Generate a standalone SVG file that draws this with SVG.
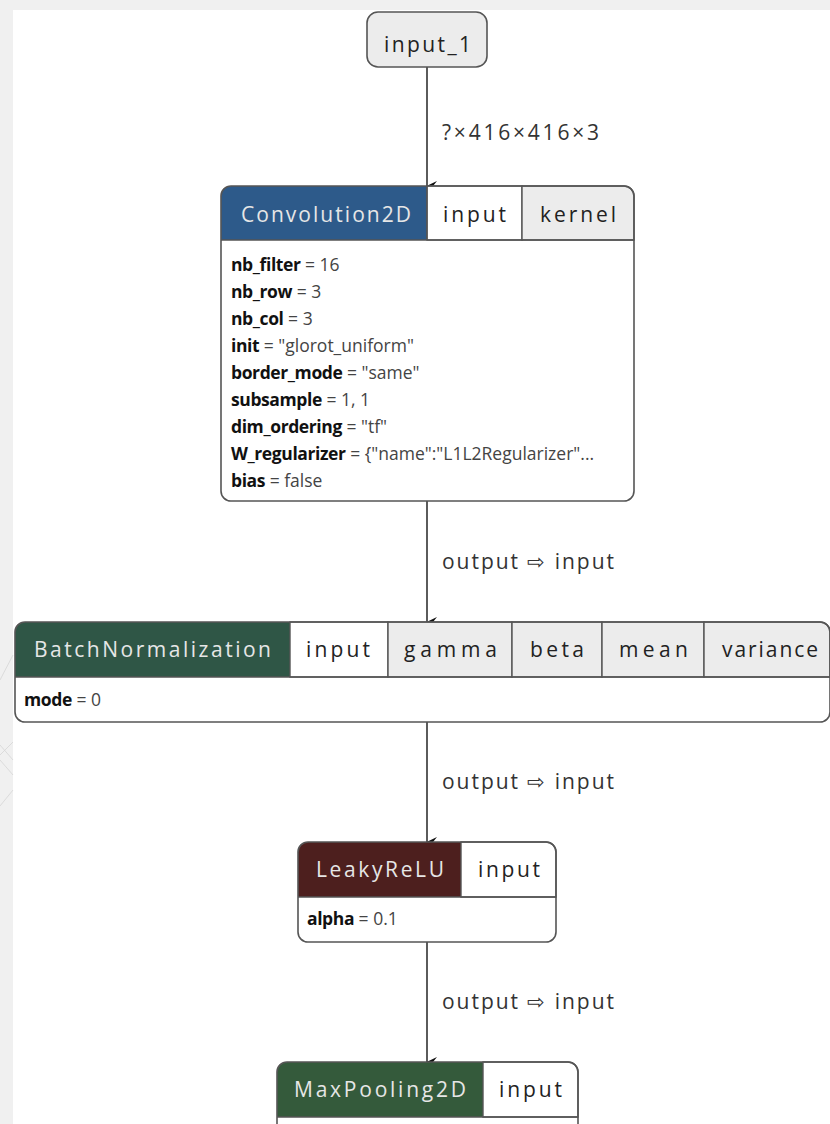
<svg xmlns="http://www.w3.org/2000/svg" width="830" height="1124" viewBox="0 0 830 1124">
  <style>
    .frame { fill: none; stroke: #555; stroke-width: 1.6; }
    .cell { stroke: #555; stroke-width: 1.4; }
    .port { fill: #ffffff; }
    .param { fill: #ececec; }
    .hdr { font-family: "Open Sans", "Noto Sans", sans-serif; font-size: 21px; fill: #e6e6e6; }
    .lbl { font-family: "Open Sans", "Noto Sans", sans-serif; font-size: 21px; fill: #222; }
    .attr { font-family: "Open Sans", "Noto Sans", sans-serif; font-size: 17.5px; fill: #444; }
    .attr .k { font-weight: bold; fill: #111; letter-spacing: -0.4px; }
    .edge { stroke: #333; stroke-width: 1.6; fill: none; marker-end: url(#arrow); }
    .elbl { font-family: "Open Sans", "Noto Sans", sans-serif; font-size: 21px; fill: #333; }
  </style>
  <defs>
    <marker id="arrow" markerWidth="12" markerHeight="14" refX="6" refY="12" orient="auto" markerUnits="userSpaceOnUse" viewBox="0 0 12 14">
      <path d="M1,2 L6,12.5 L11,2 L6,6 Z" fill="#111"/>
    </marker>
  </defs>

  <!-- canvas -->
  <rect x="0" y="0" width="830" height="1124" fill="#f0f0f0"/>
  <rect x="13" y="10" width="817" height="1114" fill="#ffffff"/>
  <g stroke="#d6d6d6" stroke-width="0.8" fill="none">
    <path d="M0,680 L13,655"/>
    <path d="M0,806 L13,790"/>
    <path d="M0,745 L13,760"/>
    <path d="M0,755 L13,742"/>
    <path d="M0,760 L13,775"/>
  </g>

  <!-- connectors -->
  <g id="connectors">
    <line class="edge" x1="427" y1="67" x2="427" y2="186"/>
    <text class="elbl" x="442" y="140" textLength="157">?×416×416×3</text>
    <line class="edge" x1="427" y1="501" x2="427" y2="622"/>
    <text class="elbl" x="442" y="569" textLength="172">output ⇨ input</text>
    <line class="edge" x1="427" y1="722" x2="427" y2="842"/>
    <text class="elbl" x="442" y="789" textLength="172">output ⇨ input</text>
    <line class="edge" x1="427" y1="942" x2="427" y2="1062"/>
    <text class="elbl" x="442" y="1009" textLength="172">output ⇨ input</text>
  </g>

  <!-- input_1 -->
  <g id="node-input_1">
    <rect x="367" y="12" width="120" height="55" rx="11" fill="#ececec" stroke="#555" stroke-width="1.6"/>
    <text class="lbl" x="384" y="52" textLength="87">input_1</text>
  </g>

  <!-- Convolution2D -->
  <g id="node-conv2d">
    <path d="M221,240 V196 A10,10 0 0 1 231,186 H427 V240 Z" fill="#2d5a8a"/>
    <rect class="cell port" x="427" y="186" width="95" height="54"/>
    <path class="cell param" d="M522,186 H624 A10,10 0 0 1 634,196 V240 H522 Z"/>
    <line class="cell" x1="427" y1="186" x2="427" y2="240"/>
    <line class="cell" x1="221" y1="240" x2="634" y2="240"/>
    <rect class="frame" x="221" y="186" width="413" height="315" rx="10"/>
    <text class="hdr" x="241" y="222" textLength="170">Convolution2D</text>
    <text class="lbl" x="443" y="222" textLength="63">input</text>
    <text class="lbl" x="540" y="222" textLength="76">kernel</text>
    <text class="attr" x="231" y="271"><tspan class="k">nb_filter</tspan> = 16</text>
    <text class="attr" x="231" y="298"><tspan class="k">nb_row</tspan> = 3</text>
    <text class="attr" x="231" y="325"><tspan class="k">nb_col</tspan> = 3</text>
    <text class="attr" x="231" y="352"><tspan class="k">init</tspan> = "glorot_uniform"</text>
    <text class="attr" x="231" y="379"><tspan class="k">border_mode</tspan> = "same"</text>
    <text class="attr" x="231" y="406"><tspan class="k">subsample</tspan> = 1, 1</text>
    <text class="attr" x="231" y="433"><tspan class="k">dim_ordering</tspan> = "tf"</text>
    <text class="attr" x="231" y="460"><tspan class="k">W_regularizer</tspan> = {"name":"L1L2Regularizer"...</text>
    <text class="attr" x="231" y="487"><tspan class="k">bias</tspan> = false</text>
  </g>

  <!-- BatchNormalization -->
  <g id="node-batchnorm">
    <path d="M15,677 V632 A10,10 0 0 1 25,622 H290 V677 Z" fill="#2f5646"/>
    <rect class="cell port" x="290" y="622" width="98" height="55"/>
    <rect class="cell param" x="388" y="622" width="124" height="55"/>
    <rect class="cell param" x="512" y="622" width="90" height="55"/>
    <rect class="cell param" x="602" y="622" width="102" height="55"/>
    <path class="cell param" d="M704,622 H820 A10,10 0 0 1 830,632 V677 H704 Z"/>
    <line class="cell" x1="15" y1="677" x2="830" y2="677"/>
    <rect class="frame" x="15" y="622" width="815" height="100" rx="10"/>
    <text class="hdr" x="34" y="657" textLength="237">BatchNormalization</text>
    <text class="lbl" x="306" y="657" textLength="64">input</text>
    <text class="lbl" x="404" y="657" textLength="93">gamma</text>
    <text class="lbl" x="530" y="657" textLength="54">beta</text>
    <text class="lbl" x="619" y="657" textLength="69">mean</text>
    <text class="lbl" x="722" y="657" textLength="96">variance</text>
    <text class="attr" x="24" y="706"><tspan class="k">mode</tspan> = 0</text>
  </g>

  <!-- LeakyReLU -->
  <g id="node-leakyrelu">
    <path d="M298,897 V852 A10,10 0 0 1 308,842 H461 V897 Z" fill="#4d1f1e"/>
    <path class="cell port" d="M461,842 H546 A10,10 0 0 1 556,852 V897 H461 Z"/>
    <line class="cell" x1="298" y1="897" x2="556" y2="897"/>
    <rect class="frame" x="298" y="842" width="258" height="100" rx="10"/>
    <text class="hdr" x="316" y="877" textLength="128">LeakyReLU</text>
    <text class="lbl" x="478" y="877" textLength="62">input</text>
    <text class="attr" x="307" y="925"><tspan class="k">alpha</tspan> = 0.1</text>
  </g>

  <!-- MaxPooling2D -->
  <g id="node-maxpool">
    <path d="M277,1117 V1072 A10,10 0 0 1 287,1062 H483 V1117 Z" fill="#345a3b"/>
    <path class="cell port" d="M483,1062 H568 A10,10 0 0 1 578,1072 V1117 H483 Z"/>
    <line class="cell" x1="277" y1="1117" x2="578" y2="1117"/>
    <path class="frame" d="M277,1130 V1072 A10,10 0 0 1 287,1062 H568 A10,10 0 0 1 578,1072 V1130"/>
    <text class="hdr" x="294" y="1097" textLength="172">MaxPooling2D</text>
    <text class="lbl" x="499" y="1097" textLength="63">input</text>
  </g>
</svg>
